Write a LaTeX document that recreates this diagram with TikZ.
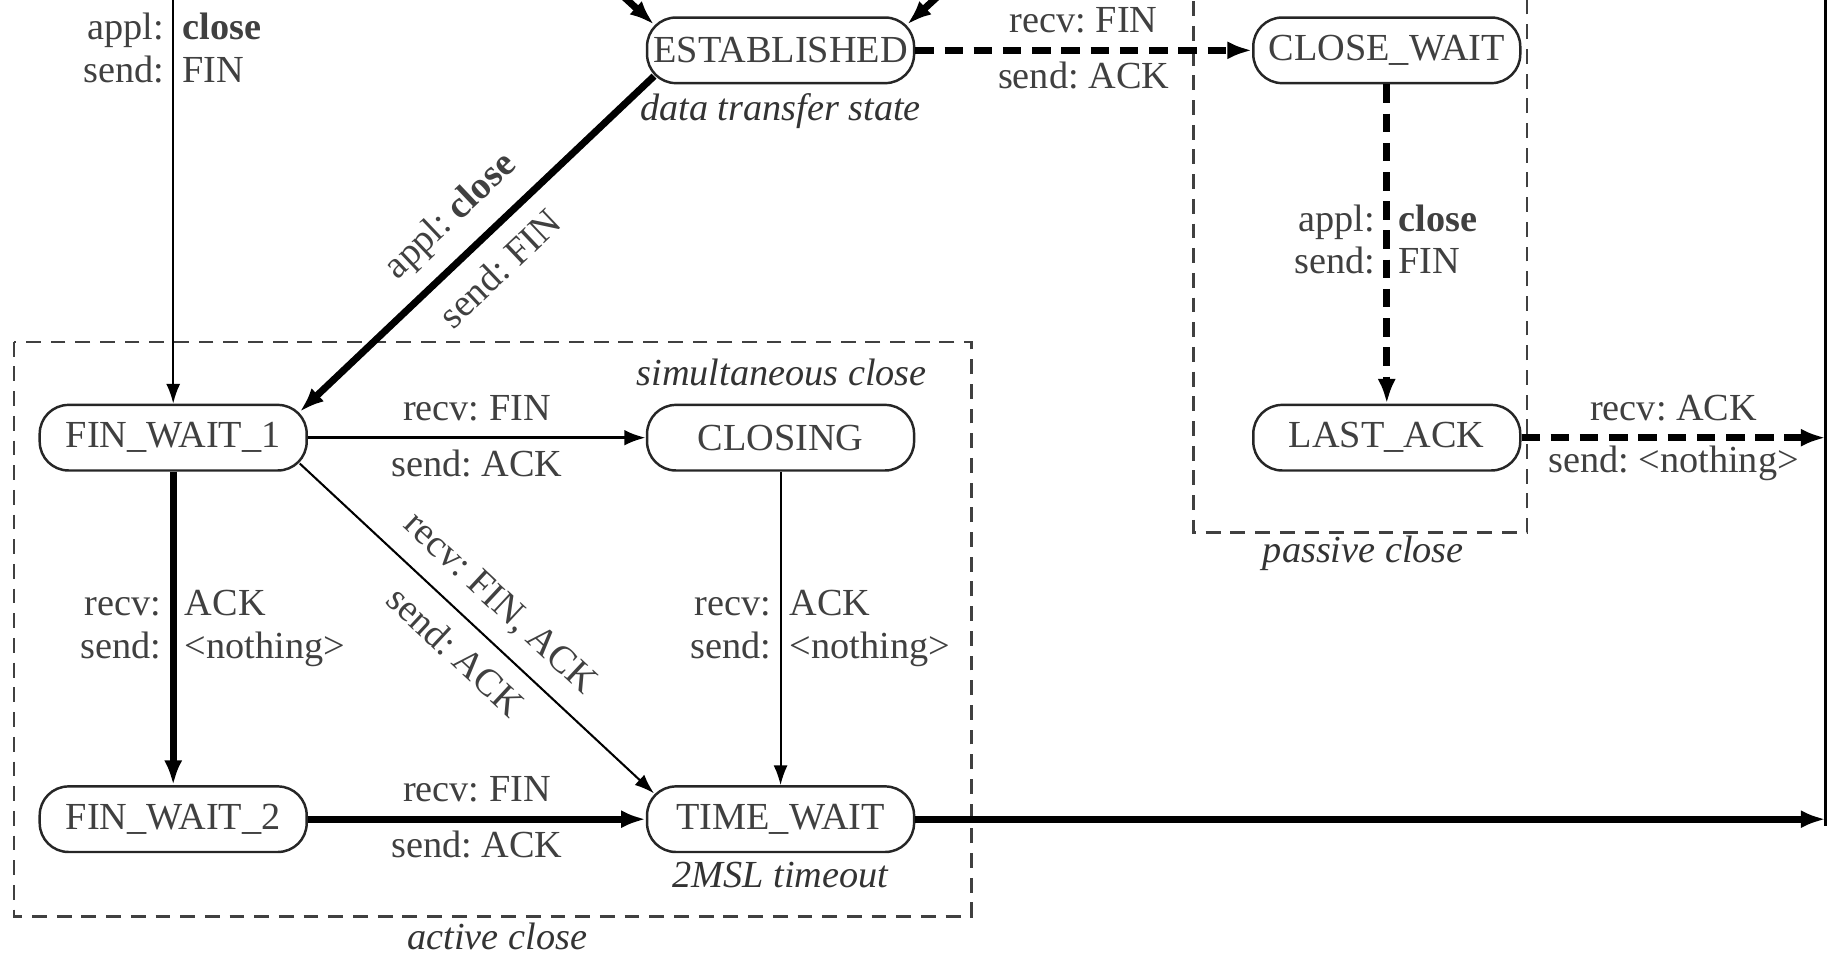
\documentclass[tikz,border=0pt]{standalone}
\usepackage{fontspec}
\setmainfont{Liberation Serif}
\usetikzlibrary{arrows.meta,calc}
\frenchspacing
\newcommand{\twoline}[2]{\strut#1\\\strut#2}
\begin{document}
\begin{tikzpicture}[x=0.01cm,y=-0.01cm,
  state/.style={draw=black!85, line width=0.6pt, rounded corners=7pt,
    minimum width=2.28cm, minimum height=0.56cm, inner sep=0pt,
    font=\fontsize{9.3}{10.3}\selectfont, text=black!75},
  lbl/.style={font=\fontsize{9.3}{10.3}\selectfont, text=black!75, inner sep=2pt},
  slbl/.style={font=\fontsize{9.3}{10.3}\selectfont, text=black!75, inner sep=1pt, sloped},
  note/.style={font=\fontsize{9.3}{10.3}\selectfont\itshape, text=black!80, inner sep=0pt},
  thinarrow/.style={line width=0.5pt, -{Latex[length=4.8pt,width=3.4pt]}},
  midarrow/.style={line width=0.8pt, -{Latex[length=5.2pt,width=3.8pt]}},
  heavyarrow/.style={line width=1.7pt, -{Latex[length=6pt,width=4.4pt]}},
  heavydash/.style={heavyarrow, dash pattern=on 4.5pt off 2.6pt},
  groupbox/.style={draw=black!75, line width=0.6pt, dash pattern=on 3.6pt off 2.4pt},
  above lbl/.style={lbl, yshift=7.2pt},
  below lbl/.style={lbl, yshift=-6.2pt}
]
\useasboundingbox (0,0) rectangle (1568,814);
\clip (0,0) rectangle (1568,814);

% groups of states
\draw[groupbox] (12,292) rectangle (830,783);
\draw[groupbox] (1020,-20) rectangle (1305,455);

% states
\node[state] (est) at (667,43)  {ESTABLISHED};
\node[state] (cw)  at (1185,43) {CLOSE\_WAIT};
\node[state] (fw1) at (148,374) {FIN\_WAIT\_1};
\node[state] (cl)  at (667,374) {CLOSING};
\node[state] (la)  at (1185,374) {LAST\_ACK};
\node[state] (fw2) at (148,700) {FIN\_WAIT\_2};
\node[state] (tw)  at (667,700) {TIME\_WAIT};

% notes
\node[note] (ntransfer) at (667,95)  {data transfer state};
\node[note] (nsim)      at (668,318) {simultaneous close};
\node[note] (nmsl)      at (667,748) {2MSL timeout};
\node[note] (npassive)  at (1165,473) {passive close};
\node[note] (nactive)   at (425,800) {active close};

% free ends outside the drawing area
\coordinate (tl)  at (148,-10);
\coordinate (inL) at (524,-11);
\coordinate (inR) at (810,-11);
\coordinate (rt)  at (1560,-10);
\coordinate (laend) at (rt |- la.east);
\coordinate (twend) at (rt |- tw.east);

% right-hand closed line
\draw[line width=0.6pt] (rt) -- ($(twend)+(0,6)$);

% transitions arriving at ESTABLISHED
\draw[heavyarrow] (inL) -- ($(est.north west)+(7,7)$);
\draw[heavyarrow] (inR) -- ($(est.north east)+(-7,7)$);

% active close from the left
\draw[thinarrow] (tl) --
  node[lbl,pos=0.155,left,align=right] {\twoline{appl:}{send:}}
  node[lbl,pos=0.155,right,align=left] {\twoline{\textbf{close}}{FIN}} (fw1.north);

% ESTABLISHED -> CLOSE_WAIT
\draw[heavydash] (est.east) --
  node[above lbl,pos=0.5] {recv: FIN}
  node[below lbl,pos=0.5] {send: ACK} (cw.west);

% ESTABLISHED -> FIN_WAIT_1
\draw[heavyarrow] ($(est.south west)+(7,-7)$) --
  node[slbl,above=3pt,pos=0.5] {appl: \textbf{close}}
  node[slbl,below=3pt,pos=0.5] {send: FIN} ($(fw1.north east)+(-7,7)$);

% CLOSE_WAIT -> LAST_ACK
\draw[heavydash] (cw.south) --
  node[lbl,pos=0.5,left,align=right] {\twoline{appl:}{send:}}
  node[lbl,pos=0.5,right,align=left] {\twoline{\textbf{close}}{FIN}} (la.north);

% LAST_ACK -> closed
\draw[heavydash] (la.east) --
  node[above lbl,pos=0.5] {recv: ACK}
  node[below lbl,pos=0.5] {send: <nothing>} (laend);

% FIN_WAIT_1 -> CLOSING
\draw[midarrow] (fw1.east) --
  node[above lbl,pos=0.5] {recv: FIN}
  node[below lbl,pos=0.5] {send: ACK} (cl.west);

% FIN_WAIT_1 -> TIME_WAIT
\draw[thinarrow] ($(fw1.south east)+(-7,-7)$) --
  node[slbl,above=3pt,pos=0.5] {recv: FIN, ACK}
  node[slbl,below=3pt,pos=0.5] {send: ACK} ($(tw.north west)+(7,7)$);

% FIN_WAIT_1 -> FIN_WAIT_2
\draw[heavyarrow] (fw1.south) --
  node[lbl,pos=0.5,left,align=right] {\twoline{recv:}{send:}}
  node[lbl,pos=0.5,right,align=left] {\twoline{ACK}{<nothing>}} (fw2.north);

% CLOSING -> TIME_WAIT
\draw[thinarrow] (cl.south) --
  node[lbl,pos=0.5,left,align=right] {\twoline{recv:}{send:}}
  node[lbl,pos=0.5,right,align=left] {\twoline{ACK}{<nothing>}} (tw.north);

% FIN_WAIT_2 -> TIME_WAIT
\draw[heavyarrow] (fw2.east) --
  node[above lbl,pos=0.5] {recv: FIN}
  node[below lbl,pos=0.5] {send: ACK} (tw.west);

% TIME_WAIT -> closed
\draw[heavyarrow] (tw.east) -- (twend);
\end{tikzpicture}
\end{document}
